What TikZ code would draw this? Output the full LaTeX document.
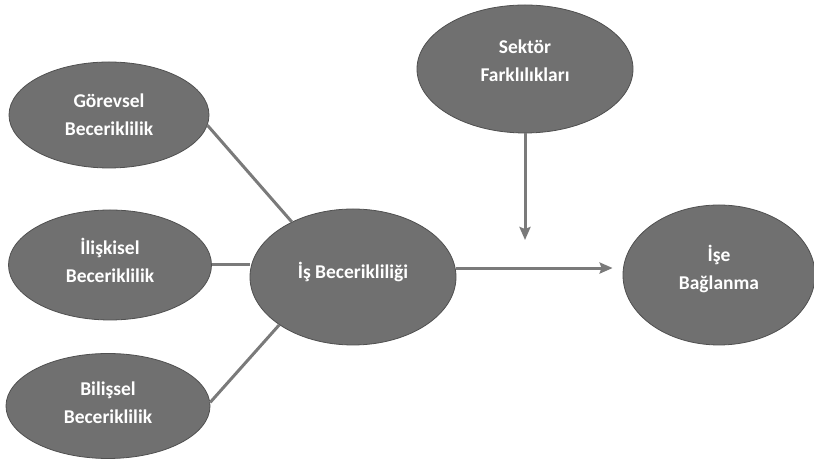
\documentclass[tikz,border=0pt]{standalone}
\usepackage{fontspec}
\setmainfont{Carlito}
\usepackage{tikz}
\usetikzlibrary{shapes.geometric, arrows}
\usetikzlibrary{arrows.meta}
\definecolor{ovalgray}{RGB}{112,112,112}
\definecolor{rimgray}{RGB}{80,80,80}
\definecolor{linkgray}{RGB}{122,122,122}
\tikzstyle{oval} = [ellipse, draw=rimgray, fill=ovalgray, line width=0.8pt, text=white, font=\bfseries\fontsize{19.5}{28}\selectfont, align=center, inner sep=0pt]
\tikzstyle{link} = [draw=linkgray, line width=3pt]
\tikzstyle{arrow} = [link, -{Stealth[length=13pt,width=11pt,inset=2pt]}]

\begin{document}
\begin{tikzpicture}[x=1pt, y=1pt]
\useasboundingbox (0,0) rectangle (814,462);
\fill[white] (0,0) rectangle (814,462);
% left side: the three kinds
\node[oval, minimum width=200pt, minimum height=106pt] (gor) at (109,347) {Görevsel\\Beceriklilik};
\node[oval, minimum width=203pt, minimum height=110pt, text depth=10pt] (ili) at (110,197) {İlişkisel\\Beceriklilik};
\node[oval, minimum width=204pt, minimum height=105pt, text depth=6pt] (bil) at (108,56) {Bilişsel\\Beceriklilik};
% middle and right
\node[oval, minimum width=206pt, minimum height=136pt, text depth=14pt] (isb) at (353,185) {İş Becerikliliği};
\node[oval, minimum width=216pt, minimum height=128pt, text depth=16pt] (sek) at (525,393) {Sektör\\Farklılıkları};
\node[oval, minimum width=192pt, minimum height=140pt, text depth=16pt] (ise) at (719,187) {İşe\\Bağlanma};
\coordinate (tip) at (525,222);

\draw[link] (gor.-6) -- (isb.138);
\draw[link] (ili.east) -- (ili.east -| isb.west);
\draw[link] (bil.2) -- (isb.213);
\draw[arrow, shorten >=10pt] (isb.5) -- (isb.5 -| ise.west);
\draw[arrow] (sek.south) -- (tip);
\end{tikzpicture}
\end{document}
